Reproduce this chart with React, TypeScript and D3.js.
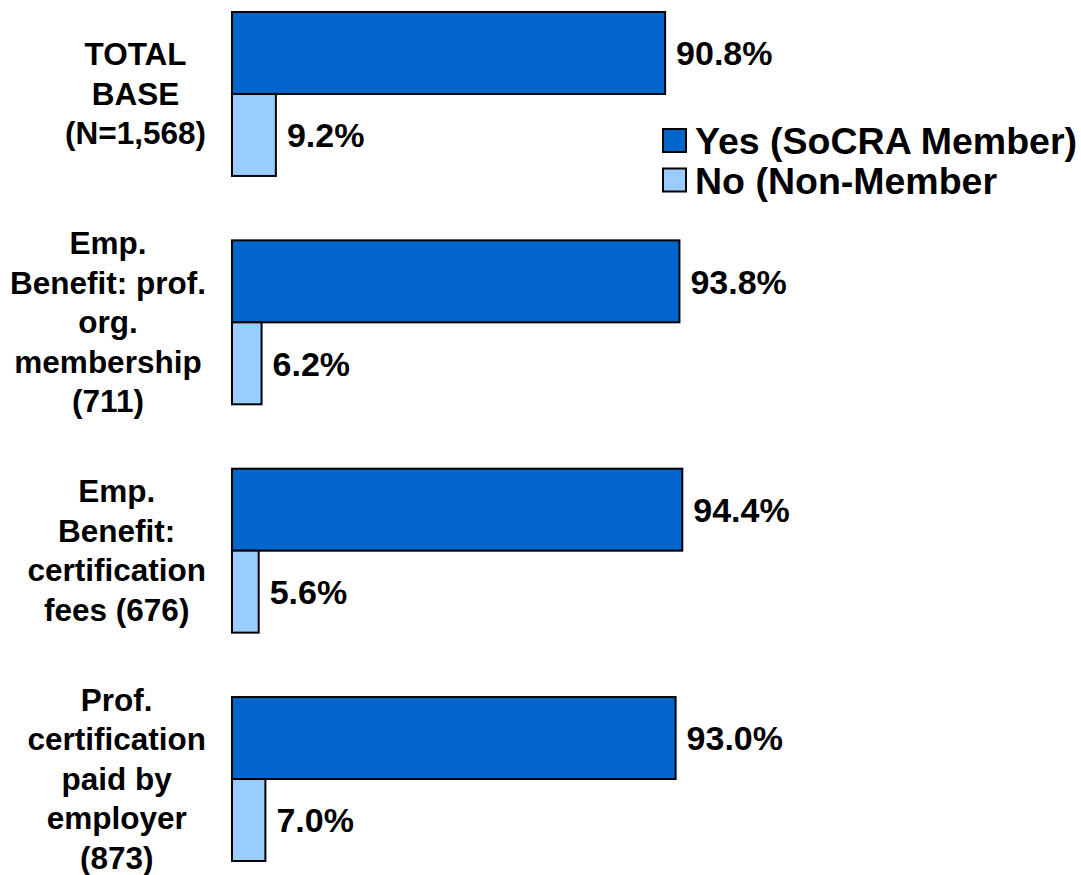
import React, { useEffect, useRef } from 'react'
import * as d3 from 'd3'

// categories (each label is split into lines as in the original slide)
const categories = [
  ['TOTAL', 'BASE', '(N=1,568)'],
  ['Emp.', 'Benefit: prof.', 'org.', 'membership', '(711)'],
  ['Emp.', 'Benefit:', 'certification', 'fees (676)'],
  ['Prof.', 'certification', 'paid by', 'employer', '(873)'],
]
const seriesNames = ['Yes (SoCRA Member)', 'No (Non-Member']
const yesValues = [90.8, 93.8, 94.4, 93.0]
const noValues = [9.2, 6.2, 5.6, 7.0]

const colors = ['#0066CC', '#99CCFF']

const W = 1081
const H = 875
const FONT = '"Liberation Sans", Arial, sans-serif'

export default function App () {
  const ref = useRef<SVGSVGElement>(null)

  useEffect(() => {
    const svg = d3.select(ref.current)
    svg.selectAll('*').remove()

    const keys = categories.map((c, i) => String(i))
    const x = d3.scaleLinear().domain([0, 100]).range([232, 709])
    const y = d3.scaleBand().domain(keys).range([12, 861]).paddingInner(0.282).paddingOuter(0)
    const ySub = d3.scaleBand().domain(['0', '1']).range([0, y.bandwidth()]).padding(0)

    const rows = keys.map((k, i) => ({ key: k, values: [yesValues[i], noValues[i]] }))

    const groups = svg.selectAll('g.grp')
      .data(rows)
      .join('g')
      .attr('class', 'grp')
      .attr('transform', d => `translate(0,${y(d.key)})`)

    groups.selectAll('rect')
      .data(d => d.values.map((v, j) => ({ v, j })))
      .join('rect')
      .attr('x', x(0))
      .attr('y', d => ySub(String(d.j)) as number)
      .attr('width', d => x(d.v) - x(0))
      .attr('height', ySub.bandwidth())
      .attr('fill', d => colors[d.j])
      .attr('stroke', '#000')
      .attr('stroke-width', 2)

    groups.selectAll('text.val')
      .data(d => d.values.map((v, j) => ({ v, j })))
      .join('text')
      .attr('class', 'val')
      .attr('x', d => x(d.v) + 11)
      .attr('y', d => (ySub(String(d.j)) as number) + ySub.bandwidth() / 2)
      .attr('dy', '0.36em')
      .attr('font-family', FONT)
      .attr('font-weight', 'bold')
      .attr('font-size', 34)
      .attr('fill', '#000')
      .text(d => d.v.toFixed(1) + '%')

    // category labels: right-aligned block, lines centred inside it
    const lineH = 39.5
    categories.forEach((lines, i) => {
      const cy = (y(keys[i]) as number) + y.bandwidth() / 2
      const t = svg.append('text')
        .attr('font-family', FONT)
        .attr('font-weight', 'bold')
        .attr('font-size', 31.5)
        .attr('text-anchor', 'middle')
        .attr('fill', '#000')
      const spans = t.selectAll('tspan')
        .data(lines)
        .join('tspan')
        .attr('y', (d, j) => cy + (j - (lines.length - 1) / 2) * lineH)
        .attr('dy', '0.34em')
        .text(d => d)
      let maxW = 0
      spans.each(function () {
        maxW = Math.max(maxW, (this as SVGTSpanElement).getComputedTextLength())
      })
      spans.attr('x', 206 - maxW / 2)
    })

    // legend
    const legend = svg.append('g').attr('transform', 'translate(663,129)')
    seriesNames.forEach((name, i) => {
      const g = legend.append('g').attr('transform', `translate(0,${i * 39.5})`)
      g.append('rect')
        .attr('width', 23)
        .attr('height', 23)
        .attr('fill', colors[i])
        .attr('stroke', '#000')
        .attr('stroke-width', 2)
      g.append('text')
        .attr('x', 32)
        .attr('y', 25)
        .attr('font-family', FONT)
        .attr('font-weight', 'bold')
        .attr('font-size', 37.5)
        .attr('fill', '#000')
        .text(name)
    })
  }, [])

  return (
    <svg ref={ref} width={W} height={H}
      style={{ position: 'absolute', left: 0, top: 0, background: '#fff' }} />
  )
}
